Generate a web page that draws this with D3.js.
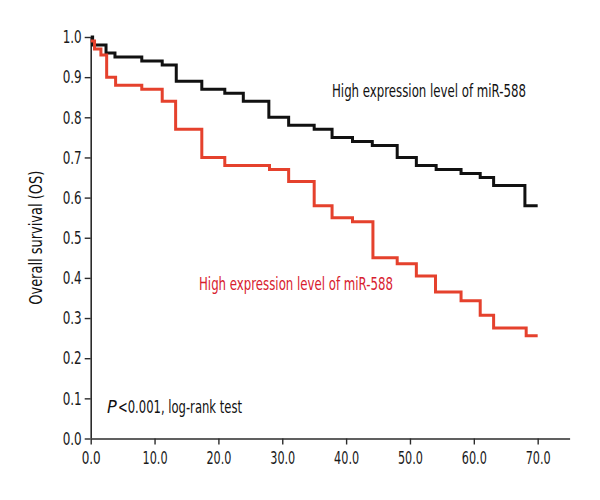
<!DOCTYPE html>
<html>
<head>
<meta charset="utf-8">
<script src="https://cdn.jsdelivr.net/npm/d3@7"></script>
<style>
  html, body { margin: 0; padding: 0; background: #fff; }
  svg { display: block; }
  text { font-family: "Liberation Sans Narrow", "DejaVu Sans Condensed", "Roboto Condensed", sans-serif; }
</style>
</head>
<body>
<script>
// ---- data ----
const blackTimes = [0, 0.3, 2.4, 3.8, 8.0, 11.2, 13.4, 17.4, 21.0, 23.9, 27.9, 31.0, 35.0, 37.8, 41.0, 44.1, 48.0, 51.0, 54.1, 58.0, 61.0, 63.1, 68.0, 70];
const blackSurv  = [1.0, 0.98, 0.96, 0.95, 0.94, 0.93, 0.89, 0.87, 0.86, 0.84, 0.80, 0.78, 0.77, 0.75, 0.74, 0.73, 0.70, 0.68, 0.67, 0.66, 0.65, 0.63, 0.58, 0.58];
const redTimes   = [0, 0.6, 1.6, 2.5, 3.9, 8.0, 11.2, 13.3, 17.4, 21.0, 28.0, 31.0, 35.0, 37.8, 41.0, 44.2, 48.0, 51.0, 54.0, 58.0, 61.0, 63.1, 68.2, 70];
const redSurv    = [0.99, 0.97, 0.955, 0.90, 0.88, 0.87, 0.84, 0.77, 0.70, 0.68, 0.67, 0.64, 0.58, 0.55, 0.54, 0.45, 0.435, 0.405, 0.365, 0.343, 0.307, 0.275, 0.256, 0.256];
const xTicks = [0, 10, 20, 30, 40, 50, 60, 70];
const yTicks = [0, 0.1, 0.2, 0.3, 0.4, 0.5, 0.6, 0.7, 0.8, 0.9, 1.0];
const blackLabel = "High expression level of miR-588";
const redLabel = "High expression level of miR-588";
const yTitle = "Overall survival (OS)";
const pItalic = "P";
const pRest = "<0.001, log-rank test";

// ---- chart ----
const W = 600, H = 500;
const svg = d3.select("body").append("svg").attr("width", W).attr("height", H);

const x = d3.scaleLinear().domain([0, 75]).range([90.7, 569.6]);
const y = d3.scaleLinear().domain([0, 1]).range([438.5, 37]);

const axisColor = "#2b2b2b";

const xAxis = svg.append("g").attr("transform", `translate(0,${y(0)})`)
  .call(d3.axisBottom(x).tickValues(xTicks).tickFormat(d3.format(".1f")).tickSize(6).tickPadding(7).tickSizeOuter(0));
const yAxis = svg.append("g").attr("transform", `translate(${x(0)},0)`)
  .call(d3.axisLeft(y).tickValues(yTicks).tickFormat(d3.format(".1f")).tickSize(6).tickPadding(3).tickSizeOuter(0));

[xAxis, yAxis].forEach(g => {
  g.select(".domain").attr("stroke", axisColor).attr("stroke-width", 1.6);
  g.selectAll(".tick line").attr("stroke", axisColor).attr("stroke-width", 1.4);
  g.selectAll(".tick text").attr("fill", "#1a1a1a").style("font-size", "18px")
    .attr("textLength", d => d >= 10 ? 25 : 19).attr("lengthAdjust", "spacingAndGlyphs");
});
yAxis.select(".domain").attr("d", `M0.5,${y(1)}V${y(0)}`);

const line = d3.line().x(d => x(d[0])).y(d => y(d[1])).curve(d3.curveStepAfter);

svg.append("path")
  .datum(blackTimes.map((t, i) => [t, blackSurv[i]]))
  .attr("d", line).attr("fill", "none").attr("stroke", "#111").attr("stroke-width", 3);

svg.append("path")
  .datum(redTimes.map((t, i) => [t, redSurv[i]]))
  .attr("d", line).attr("fill", "none").attr("stroke", "#e5412d").attr("stroke-width", 3);

// labels
svg.append("text").attr("x", 332).attr("y", 97)
  .attr("textLength", 194).attr("lengthAdjust", "spacingAndGlyphs")
  .style("font-size", "18px").attr("fill", "#111").text(blackLabel);

svg.append("text").attr("x", 199).attr("y", 290)
  .attr("textLength", 194).attr("lengthAdjust", "spacingAndGlyphs")
  .style("font-size", "18px").attr("fill", "#d8202e").text(redLabel);

svg.append("text").attr("x", 107).attr("y", 412.5)
  .style("font-size", "18px").style("font-style", "italic").attr("fill", "#111").text(pItalic);
svg.append("text").attr("x", 118).attr("y", 412.5)
  .attr("textLength", 124).attr("lengthAdjust", "spacingAndGlyphs")
  .style("font-size", "18px").attr("fill", "#111").text(pRest);

svg.append("text")
  .attr("transform", `translate(42,${(y(0) + y(1)) / 2}) rotate(-90)`)
  .attr("text-anchor", "middle")
  .attr("textLength", 134).attr("lengthAdjust", "spacingAndGlyphs")
  .style("font-size", "17px").attr("fill", "#111").text(yTitle);
</script>
</body>
</html>
